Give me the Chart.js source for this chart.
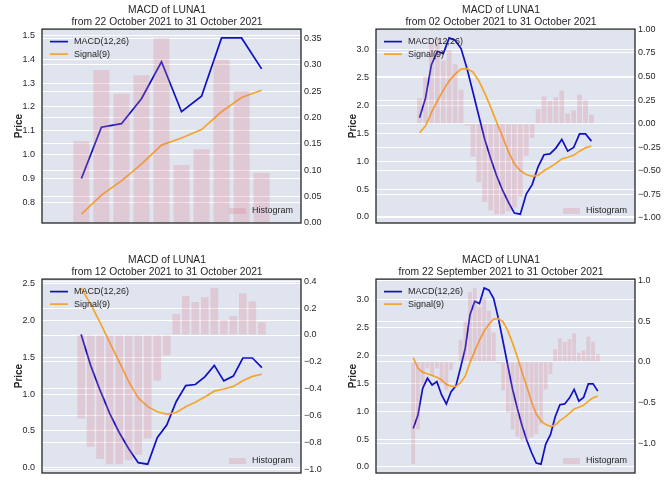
<!DOCTYPE html>
<html>
<head>
<meta charset="utf-8">
<script src="https://cdn.jsdelivr.net/npm/chart.js@4.4.0/dist/chart.umd.min.js"></script>
<style>
  body { margin: 0; background: #fff; }
  #wrap { position: relative; width: 668px; height: 501px; }
  .cell { position: absolute; width: 334px; height: 250px; }
</style>
</head>
<body>
<div id="wrap">
  <div class="cell" style="left:0;top:0"><canvas id="c0" width="334" height="250"></canvas></div>
  <div class="cell" style="left:334px;top:0"><canvas id="c1" width="334" height="250"></canvas></div>
  <div class="cell" style="left:0;top:250px"><canvas id="c2" width="334" height="250"></canvas></div>
  <div class="cell" style="left:334px;top:250px"><canvas id="c3" width="334" height="250"></canvas></div>
</div>
<script>
// daily values, 22 Sep 2021 .. 31 Oct 2021 (40 days)
const macd = [0.69, 0.93, 1.41, 1.59, 1.47, 1.53, 1.29, 1.13, 1.35, 1.45,
  1.78, 2.13, 2.73, 2.97, 2.93, 3.21, 3.17, 3.02, 2.66, 2.24,
  1.81, 1.39, 1.05, 0.74, 0.48, 0.26, 0.07, 0.05, 0.41, 0.58,
  0.90, 1.115, 1.13, 1.235, 1.39, 1.18, 1.245, 1.49, 1.49, 1.36];
const signal = [1.96, 1.77, 1.70, 1.67, 1.64, 1.61, 1.56, 1.48, 1.45, 1.44,
  1.51, 1.63, 1.87, 2.08, 2.27, 2.44, 2.56, 2.65, 2.66, 2.60,
  2.44, 2.22, 1.97, 1.70, 1.44, 1.17, 0.95, 0.83, 0.76, 0.73,
  0.75, 0.83, 0.89, 0.96, 1.04, 1.07, 1.105, 1.18, 1.24, 1.27];
const hist = [-1.26, -0.83, -0.29, -0.08, -0.17, -0.08, -0.27, -0.35, -0.10, 0.01,
  0.27, 0.50, 0.86, 0.91, 0.67, 0.78, 0.63, 0.36, -0.02, -0.35,
  -0.62, -0.83, -0.92, -0.96, -0.96, -0.93, -0.89, -0.77, -0.34, -0.15,
  0.155, 0.29, 0.245, 0.28, 0.35, 0.11, 0.14, 0.31, 0.25, 0.095];

// last N days shown in each panel (top-left, top-right, bottom-left, bottom-right)
const windowDays = [10, 30, 20, 40];
const subtitles = [
  "from 22 October 2021 to 31 October 2021",
  "from 02 October 2021 to 31 October 2021",
  "from 12 October 2021 to 31 October 2021",
  "from 22 September 2021 to 31 October 2021"
];
const priceTicks = [
  ["0.8", "0.9", "1.0", "1.1", "1.2", "1.3", "1.4", "1.5"],
  ["0.0", "0.5", "1.0", "1.5", "2.0", "2.5", "3.0"],
  ["0.0", "0.5", "1.0", "1.5", "2.0", "2.5"],
  ["0.0", "0.5", "1.0", "1.5", "2.0", "2.5", "3.0"]
];
const histTicks = [
  ["0.00", "0.05", "0.10", "0.15", "0.20", "0.25", "0.30", "0.35"],
  ["−1.00", "−0.75", "−0.50", "−0.25", "0.00", "0.25", "0.50", "0.75", "1.00"],
  ["−1.0", "−0.8", "−0.6", "−0.4", "−0.2", "0.0", "0.2", "0.4"],
  ["−1.0", "−0.5", "0.0", "0.5", "1.0"]
];

const FONT = '"Liberation Sans", Arial, sans-serif';
const TEXT = "#262626";
const BLUE = "#1010c4";
const ORANGE = "#f5a52a";
const PINK = "rgba(215, 120, 140, 0.25)";

const num = s => parseFloat(s.replace("−", "-"));

function tickAxis(labels) {
  const values = labels.map(num);
  return {
    afterBuildTicks(scale) {
      scale.ticks = values
        .filter(v => v >= scale.min - 1e-9 && v <= scale.max + 1e-9)
        .map(v => ({ value: v }));
    },
    callback(v) {
      let best = 0;
      values.forEach((t, i) => { if (Math.abs(t - v) < Math.abs(values[best] - v)) best = i; });
      return labels[best];
    }
  };
}

const panelDecor = {
  id: "panelDecor",
  beforeDraw(chart) {
    const { ctx, chartArea: a } = chart;
    ctx.save();
    ctx.fillStyle = "#e0e4ee";
    ctx.fillRect(a.left, a.top, a.right - a.left, a.bottom - a.top);
    ctx.restore();
  },
  afterDatasetsDraw(chart) {
    const { ctx, chartArea: a } = chart;
    ctx.save();
    ctx.font = "9px " + FONT;
    ctx.textBaseline = "middle";
    ctx.fillStyle = TEXT;
    ctx.lineWidth = 1.7;
    [["MACD(12,26)", BLUE, 12.5], ["Signal(9)", ORANGE, 25]].forEach(([txt, col, dy]) => {
      ctx.strokeStyle = col;
      ctx.beginPath();
      ctx.moveTo(a.left + 8, a.top + dy);
      ctx.lineTo(a.left + 26, a.top + dy);
      ctx.stroke();
      ctx.fillText(txt, a.left + 32, a.top + dy);
    });
    ctx.fillStyle = PINK;
    ctx.fillRect(a.right - 72, a.bottom - 15, 17, 6);
    ctx.fillStyle = TEXT;
    ctx.fillText("Histogram", a.right - 49, a.bottom - 12);
    ctx.strokeStyle = TEXT;
    ctx.lineWidth = 1.3;
    ctx.strokeRect(a.left, a.top, a.right - a.left, a.bottom - a.top);
    ctx.restore();
  }
};

function makePanel(idx) {
  const n = windowDays[idx];
  const start = macd.length - n;
  const m = macd.slice(start), s = signal.slice(start), h = hist.slice(start);

  // matplotlib-like autoscale: 5% margins, bars stick to zero
  const lo = Math.min(...m, ...s), hi = Math.max(...m, ...s);
  const pad = (hi - lo) * 0.05;
  let hLo = Math.min(0, ...h), hHi = Math.max(0, ...h);
  const hPad = (hHi - hLo) * 0.05;
  if (hLo < 0) hLo -= hPad;
  if (hHi > 0) hHi += hPad;
  const xPad = (n - 1 + 0.8) * 0.05;

  const pts = arr => arr.map((v, i) => ({ x: i, y: v }));
  const left = tickAxis(priceTicks[idx]);
  const right = tickAxis(histTicks[idx]);

  new Chart(document.getElementById("c" + idx), {
    type: "bar",
    data: {
      datasets: [
        { type: "line", label: "MACD(12,26)", data: pts(m), yAxisID: "y",
          borderColor: BLUE, borderWidth: 1.7, pointRadius: 0, tension: 0, order: 2 },
        { type: "line", label: "Signal(9)", data: pts(s), yAxisID: "y",
          borderColor: ORANGE, borderWidth: 1.7, pointRadius: 0, tension: 0, order: 1 },
        { type: "bar", label: "Histogram", data: pts(h), yAxisID: "y1",
          backgroundColor: PINK, borderWidth: 0, barPercentage: 0.8, categoryPercentage: 1, order: 0 }
      ]
    },
    options: {
      responsive: false,
      animation: false,
      events: [],
      layout: { padding: { top: 0, right: 0, bottom: 27, left: 0 } },
      plugins: {
        legend: { display: false },
        tooltip: { enabled: false },
        title: {
          display: true,
          text: ["MACD of LUNA1", subtitles[idx]],
          color: TEXT,
          font: { family: FONT, size: 10.3, weight: "normal", lineHeight: 1.17 },
          padding: { top: 4, bottom: 1 }
        }
      },
      scales: {
        x: { type: "linear", display: false, min: -0.4 - xPad, max: n - 1 + 0.4 + xPad },
        y: {
          position: "left", min: lo - pad, max: hi + pad,
          afterBuildTicks: left.afterBuildTicks,
          afterFit(sc) { sc.width = 42; },
          grid: { color: "#ffffff", lineWidth: 1, drawTicks: false },
          border: { display: false },
          ticks: { color: TEXT, padding: 7, font: { family: FONT, size: 9 }, callback: left.callback },
          title: { display: true, text: "Price", color: TEXT,
                   font: { family: FONT, size: 10, weight: "bold" }, padding: { top: 13, bottom: 0 } }
        },
        y1: {
          position: "right", min: hLo, max: hHi,
          afterBuildTicks: right.afterBuildTicks,
          afterFit(sc) { sc.width = 33; },
          grid: { color: "#ffffff", lineWidth: 1, drawTicks: false },
          border: { display: false },
          ticks: { color: TEXT, padding: 3, font: { family: FONT, size: 9 }, callback: right.callback }
        }
      }
    },
    plugins: [panelDecor]
  });
}

windowDays.forEach((_, i) => makePanel(i));
</script>
</body>
</html>
